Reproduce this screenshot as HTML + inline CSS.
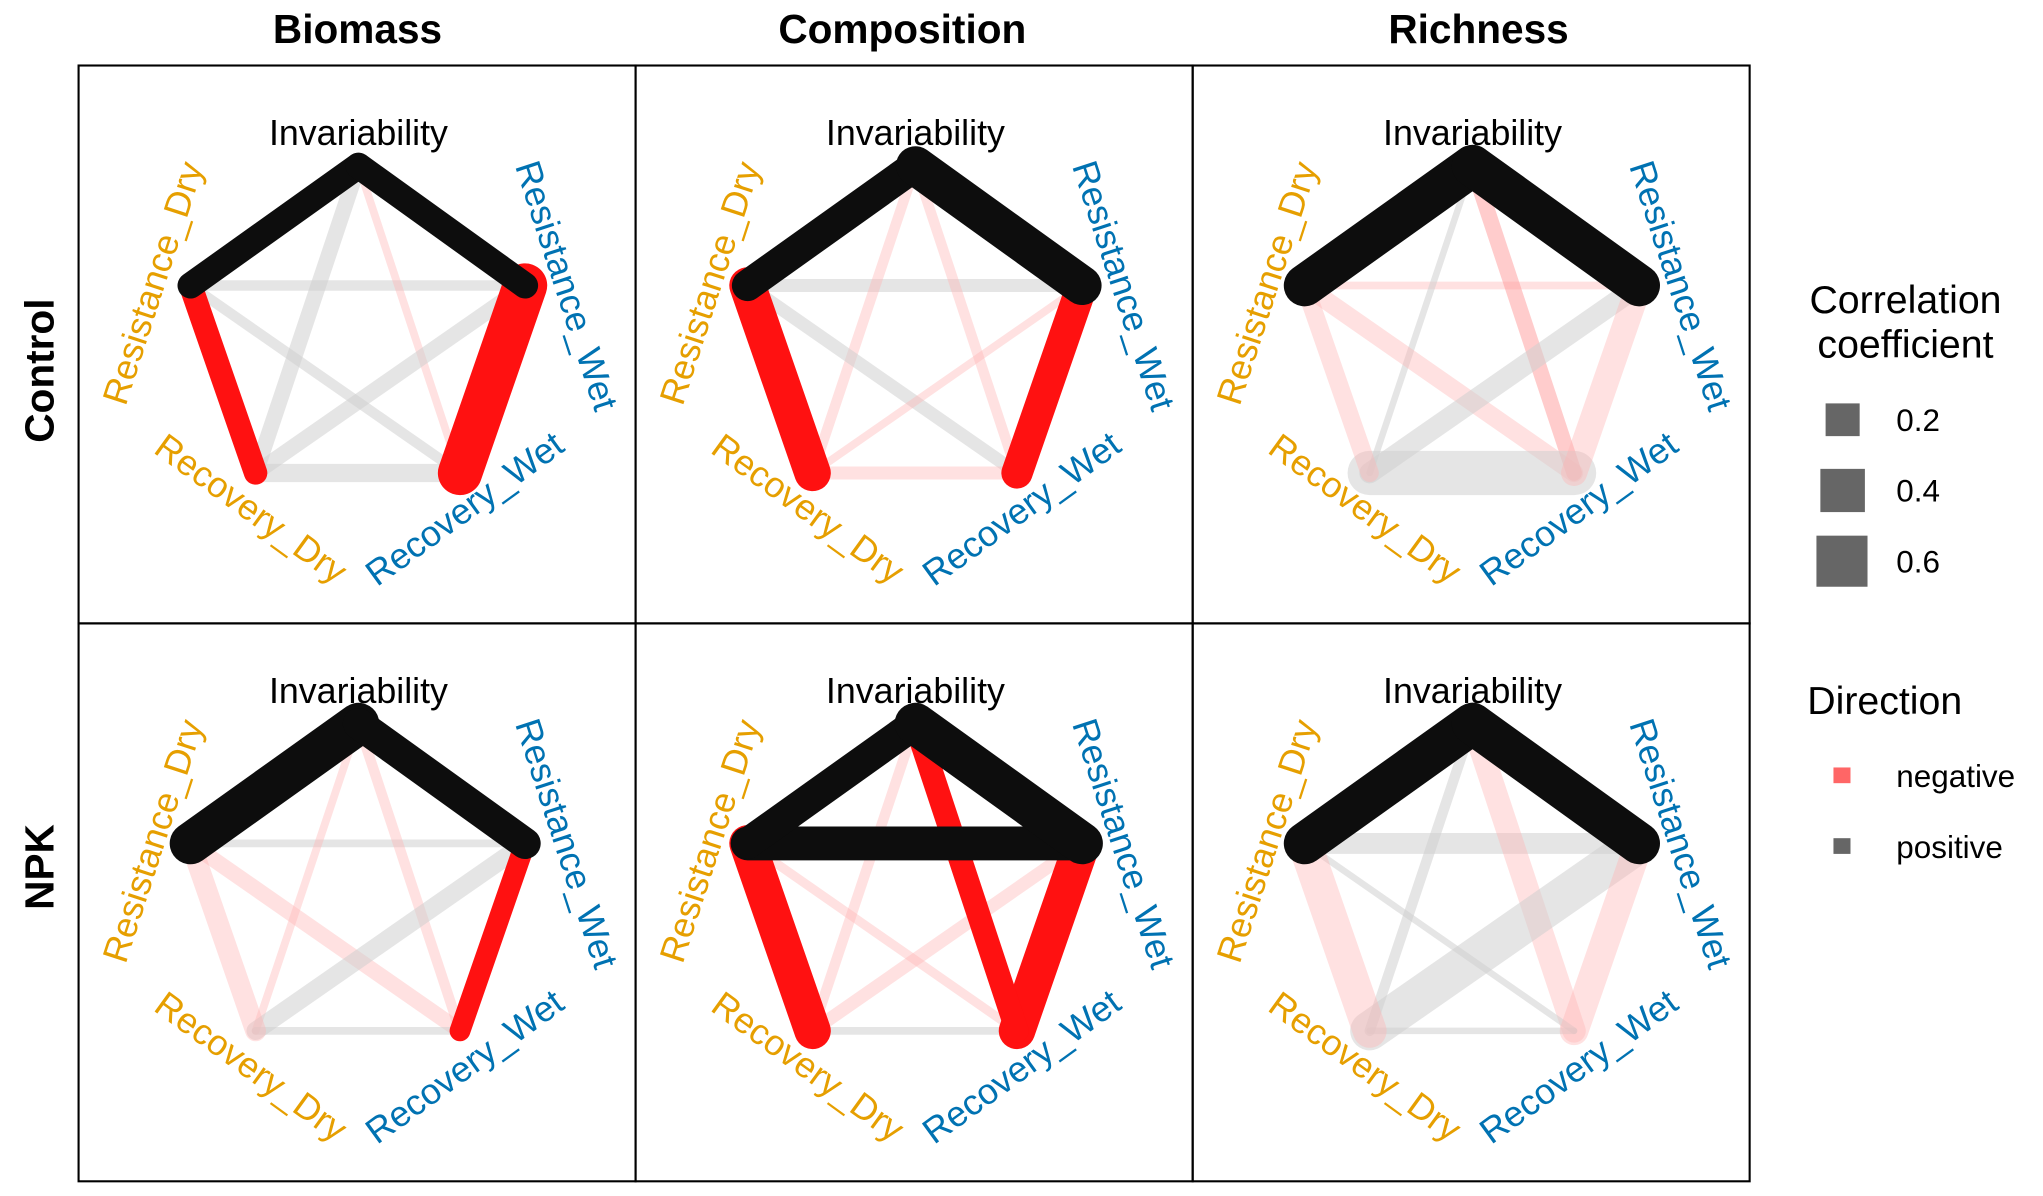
<!DOCTYPE html>
<html><head><meta charset="utf-8"><style>
html,body{margin:0;padding:0;background:#fff}
svg{display:block}
text{font-family:"Liberation Sans",Arial,sans-serif}
.g{stroke:#cfcfcf;stroke-opacity:.55;stroke-linecap:round}
.p{stroke:#ffb3b3;stroke-opacity:.4;stroke-linecap:round}
.pp{stroke:#ff9a9a;stroke-opacity:.5;stroke-linecap:round}
.k{stroke:#0d0d0d;stroke-linecap:round}
.r{stroke:#ff1111;stroke-linecap:round}
.lab{font-size:27.5px}
.o{fill:#E69F00}.b{fill:#0072B2}
</style></head><body>
<svg width="2043" height="1196" viewBox="0 0 1560 913.2" xmlns="http://www.w3.org/2000/svg">
<rect width="1560" height="914" fill="#fff"/>
<defs>
<g id="labels" transform="scale(0.994)">
<text class="lab" x="215" y="61" text-anchor="middle" fill="#000">Invariability</text>
<text class="lab o" text-anchor="middle" transform="translate(66,170) rotate(-72)">Resistance_Dry</text>
<text class="lab b" text-anchor="middle" transform="translate(366,172) rotate(72)">Resistance_Wet</text>
<text class="lab o" text-anchor="middle" transform="translate(127,348) rotate(36)">Recovery_Dry</text>
<text class="lab b" text-anchor="middle" transform="translate(302,348) rotate(-36)">Recovery_Wet</text>
</g>
</defs>
<g font-weight="bold" font-size="31" text-anchor="middle">
<text x="273" y="33">Biomass</text>
<text x="689" y="33">Composition</text>
<text x="1129" y="33">Richness</text>
<text transform="translate(41,283) rotate(-90)">Control</text>
<text transform="translate(41,662) rotate(-90)">NPK</text>
</g>

<g transform="translate(60,50) scale(0.994)">
<line class="g" x1="86" y1="169" x2="343" y2="169" stroke-width="8"/>
<line class="g" x1="215" y1="77" x2="136" y2="313" stroke-width="12"/>
<line class="p" x1="215" y1="77" x2="293" y2="313" stroke-width="6"/>
<line class="g" x1="86" y1="169" x2="293" y2="313" stroke-width="8"/>
<line class="g" x1="343" y1="169" x2="136" y2="313" stroke-width="12"/>
<line class="g" x1="136" y1="313" x2="293" y2="313" stroke-width="14"/>
<line class="r" x1="86" y1="169" x2="136" y2="313" stroke-width="18"/>
<line class="r" x1="343" y1="169" x2="293" y2="313" stroke-width="34"/>
<line class="k" x1="215" y1="77" x2="86" y2="169" stroke-width="20"/>
<line class="k" x1="215" y1="77" x2="343" y2="169" stroke-width="20"/>
<use href="#labels" transform="scale(1.006)"/>
</g>
<g transform="translate(485.3,50) scale(0.994)">
<line class="g" x1="86" y1="169" x2="343" y2="169" stroke-width="10"/>
<line class="p" x1="215" y1="77" x2="136" y2="313" stroke-width="8"/>
<line class="p" x1="215" y1="77" x2="293" y2="313" stroke-width="8"/>
<line class="g" x1="86" y1="169" x2="293" y2="313" stroke-width="10"/>
<line class="p" x1="343" y1="169" x2="136" y2="313" stroke-width="6"/>
<line class="p" x1="136" y1="313" x2="293" y2="313" stroke-width="10"/>
<line class="r" x1="86" y1="169" x2="136" y2="313" stroke-width="28"/>
<line class="r" x1="343" y1="169" x2="293" y2="313" stroke-width="24"/>
<line class="k" x1="215" y1="77" x2="86" y2="169" stroke-width="24"/>
<line class="k" x1="215" y1="77" x2="343" y2="169" stroke-width="30"/>
<use href="#labels" transform="scale(1.006)"/>
</g>
<g transform="translate(910.7,50) scale(0.994)">
<line class="p" x1="86" y1="169" x2="343" y2="169" stroke-width="6"/>
<line class="g" x1="215" y1="77" x2="136" y2="313" stroke-width="5"/>
<line class="pp" x1="215" y1="77" x2="293" y2="313" stroke-width="12"/>
<line class="p" x1="86" y1="169" x2="293" y2="313" stroke-width="14"/>
<line class="g" x1="343" y1="169" x2="136" y2="313" stroke-width="16"/>
<line class="g" x1="136" y1="313" x2="293" y2="313" stroke-width="34"/>
<line class="p" x1="86" y1="169" x2="136" y2="313" stroke-width="14"/>
<line class="p" x1="343" y1="169" x2="293" y2="313" stroke-width="20"/>
<line class="k" x1="215" y1="77" x2="86" y2="169" stroke-width="32"/>
<line class="k" x1="215" y1="77" x2="343" y2="169" stroke-width="32"/>
<use href="#labels" transform="scale(1.006)"/>
</g>
<g transform="translate(60,476) scale(0.994)">
<line class="g" x1="86" y1="169" x2="343" y2="169" stroke-width="6"/>
<line class="p" x1="215" y1="77" x2="136" y2="313" stroke-width="6"/>
<line class="p" x1="215" y1="77" x2="293" y2="313" stroke-width="8"/>
<line class="p" x1="86" y1="169" x2="293" y2="313" stroke-width="12"/>
<line class="g" x1="343" y1="169" x2="136" y2="313" stroke-width="14"/>
<line class="g" x1="136" y1="313" x2="293" y2="313" stroke-width="6"/>
<line class="p" x1="86" y1="169" x2="136" y2="313" stroke-width="16"/>
<line class="r" x1="343" y1="169" x2="293" y2="313" stroke-width="16"/>
<line class="k" x1="215" y1="77" x2="86" y2="169" stroke-width="32"/>
<line class="k" x1="215" y1="77" x2="343" y2="169" stroke-width="24"/>
<use href="#labels" transform="scale(1.006)"/>
</g>
<g transform="translate(485.3,476) scale(0.994)">
<line class="p" x1="215" y1="77" x2="136" y2="313" stroke-width="8"/>
<line class="p" x1="86" y1="169" x2="293" y2="313" stroke-width="7"/>
<line class="p" x1="343" y1="169" x2="136" y2="313" stroke-width="10"/>
<line class="g" x1="136" y1="313" x2="293" y2="313" stroke-width="6"/>
<line class="r" x1="86" y1="169" x2="136" y2="313" stroke-width="28"/>
<line class="r" x1="343" y1="169" x2="293" y2="313" stroke-width="28"/>
<line class="r" x1="215" y1="77" x2="293" y2="313" stroke-width="18"/>
<line class="k" x1="86" y1="169" x2="343" y2="169" stroke-width="26"/>
<line class="k" x1="215" y1="77" x2="86" y2="169" stroke-width="24"/>
<line class="k" x1="215" y1="77" x2="343" y2="169" stroke-width="32"/>
<use href="#labels" transform="scale(1.006)"/>
</g>
<g transform="translate(910.7,476) scale(0.994)">
<line class="g" x1="86" y1="169" x2="343" y2="169" stroke-width="16"/>
<line class="g" x1="215" y1="77" x2="136" y2="313" stroke-width="8"/>
<line class="p" x1="215" y1="77" x2="293" y2="313" stroke-width="18"/>
<line class="g" x1="86" y1="169" x2="293" y2="313" stroke-width="5"/>
<line class="g" x1="343" y1="169" x2="136" y2="313" stroke-width="30"/>
<line class="g" x1="136" y1="313" x2="293" y2="313" stroke-width="5"/>
<line class="p" x1="86" y1="169" x2="136" y2="313" stroke-width="26"/>
<line class="p" x1="343" y1="169" x2="293" y2="313" stroke-width="22"/>
<line class="k" x1="215" y1="77" x2="86" y2="169" stroke-width="32"/>
<line class="k" x1="215" y1="77" x2="343" y2="169" stroke-width="32"/>
<use href="#labels" transform="scale(1.006)"/>
</g>

<g fill="none" stroke="#000" stroke-width="1.6">
<rect x="60" y="50" width="425.3" height="426"/>
<rect x="485.3" y="50" width="425.4" height="426"/>
<rect x="910.7" y="50" width="425.3" height="426"/>
<rect x="60" y="476" width="425.3" height="426"/>
<rect x="485.3" y="476" width="425.4" height="426"/>
<rect x="910.7" y="476" width="425.3" height="426"/>
</g>

<g font-size="30">
<text x="1455" y="239" text-anchor="middle">Correlation</text>
<text x="1455" y="273" text-anchor="middle">coefficient</text>
<text x="1380" y="545">Direction</text>
</g>
<g fill="#666">
<rect x="1394" y="308" width="26" height="25"/>
<rect x="1390" y="358" width="34" height="33"/>
<rect x="1387" y="409" width="39" height="39"/>
<rect x="1400" y="640" width="13" height="12"/>
</g>
<rect x="1400" y="586" width="13" height="12" fill="#ff6666"/>
<g font-size="24">
<text x="1448" y="329">0.2</text>
<text x="1448" y="383">0.4</text>
<text x="1448" y="437">0.6</text>
<text x="1448" y="601">negative</text>
<text x="1448" y="655">positive</text>
</g>
</svg>
</body></html>
